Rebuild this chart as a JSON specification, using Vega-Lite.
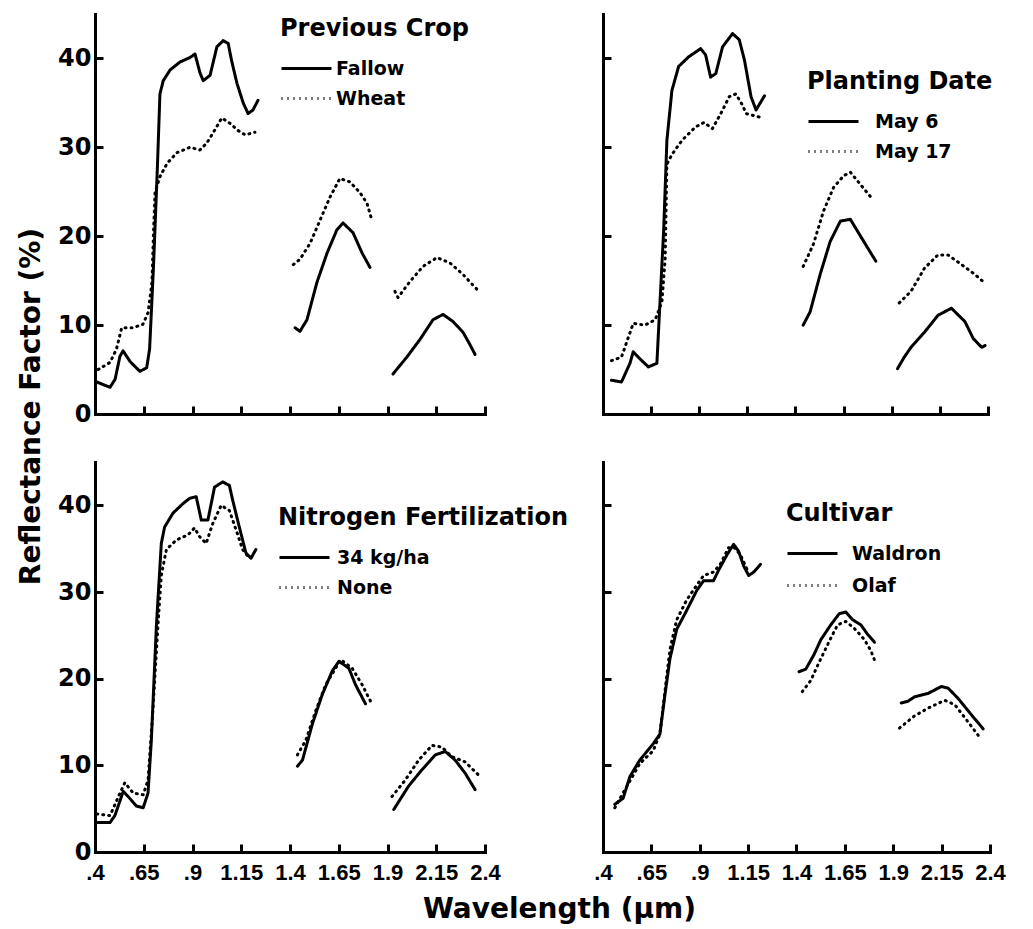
{
  "$schema": "https://vega.github.io/schema/vega-lite/v6.json",
  "background": "white",
  "padding": {"left": 17, "top": 14, "right": 5, "bottom": 5},
  "datasets": {
    "crop": [
      {"series":"Fallow","seg":1,"wl":0.409,"r":3.6},{"series":"Fallow","seg":1,"wl":0.477,"r":3.0},{"series":"Fallow","seg":1,"wl":0.503,"r":3.9},{"series":"Fallow","seg":1,"wl":0.528,"r":6.5},{"series":"Fallow","seg":1,"wl":0.544,"r":7.1},{"series":"Fallow","seg":1,"wl":0.58,"r":5.9},{"series":"Fallow","seg":1,"wl":0.63,"r":4.8},{"series":"Fallow","seg":1,"wl":0.665,"r":5.2},{"series":"Fallow","seg":1,"wl":0.68,"r":7.3},{"series":"Fallow","seg":1,"wl":0.70,"r":16.6},{"series":"Fallow","seg":1,"wl":0.72,"r":27.8},{"series":"Fallow","seg":1,"wl":0.733,"r":36.0},{"series":"Fallow","seg":1,"wl":0.75,"r":37.5},{"series":"Fallow","seg":1,"wl":0.785,"r":38.7},{"series":"Fallow","seg":1,"wl":0.836,"r":39.6},{"series":"Fallow","seg":1,"wl":0.887,"r":40.1},{"series":"Fallow","seg":1,"wl":0.913,"r":40.5},{"series":"Fallow","seg":1,"wl":0.938,"r":38.4},{"series":"Fallow","seg":1,"wl":0.955,"r":37.5},{"series":"Fallow","seg":1,"wl":0.99,"r":38.1},{"series":"Fallow","seg":1,"wl":1.025,"r":41.3},{"series":"Fallow","seg":1,"wl":1.057,"r":42.0},{"series":"Fallow","seg":1,"wl":1.083,"r":41.7},{"series":"Fallow","seg":1,"wl":1.10,"r":39.8},{"series":"Fallow","seg":1,"wl":1.128,"r":37.2},{"series":"Fallow","seg":1,"wl":1.16,"r":35.0},{"series":"Fallow","seg":1,"wl":1.185,"r":33.8},{"series":"Fallow","seg":1,"wl":1.21,"r":34.2},{"series":"Fallow","seg":1,"wl":1.236,"r":35.3},
      {"series":"Fallow","seg":2,"wl":1.426,"r":9.7},{"series":"Fallow","seg":2,"wl":1.451,"r":9.3},{"series":"Fallow","seg":2,"wl":1.487,"r":10.6},{"series":"Fallow","seg":2,"wl":1.538,"r":14.8},{"series":"Fallow","seg":2,"wl":1.59,"r":18.1},{"series":"Fallow","seg":2,"wl":1.64,"r":20.7},{"series":"Fallow","seg":2,"wl":1.672,"r":21.5},{"series":"Fallow","seg":2,"wl":1.723,"r":20.4},{"series":"Fallow","seg":2,"wl":1.77,"r":18.1},{"series":"Fallow","seg":2,"wl":1.81,"r":16.5},
      {"series":"Fallow","seg":3,"wl":1.928,"r":4.5},{"series":"Fallow","seg":3,"wl":1.999,"r":6.4},{"series":"Fallow","seg":3,"wl":2.067,"r":8.4},{"series":"Fallow","seg":3,"wl":2.133,"r":10.6},{"series":"Fallow","seg":3,"wl":2.185,"r":11.2},{"series":"Fallow","seg":3,"wl":2.236,"r":10.4},{"series":"Fallow","seg":3,"wl":2.287,"r":9.2},{"series":"Fallow","seg":3,"wl":2.323,"r":7.8},{"series":"Fallow","seg":3,"wl":2.349,"r":6.7},
      {"series":"Wheat","seg":1,"wl":0.416,"r":5.0},{"series":"Wheat","seg":1,"wl":0.477,"r":5.8},{"series":"Wheat","seg":1,"wl":0.51,"r":7.3},{"series":"Wheat","seg":1,"wl":0.537,"r":9.7},{"series":"Wheat","seg":1,"wl":0.595,"r":9.7},{"series":"Wheat","seg":1,"wl":0.646,"r":10.1},{"series":"Wheat","seg":1,"wl":0.672,"r":11.4},{"series":"Wheat","seg":1,"wl":0.692,"r":14.8},{"series":"Wheat","seg":1,"wl":0.70,"r":20.4},{"series":"Wheat","seg":1,"wl":0.708,"r":24.9},{"series":"Wheat","seg":1,"wl":0.733,"r":26.7},{"series":"Wheat","seg":1,"wl":0.77,"r":28.2},{"series":"Wheat","seg":1,"wl":0.82,"r":29.4},{"series":"Wheat","seg":1,"wl":0.887,"r":30.0},{"series":"Wheat","seg":1,"wl":0.938,"r":29.7},{"series":"Wheat","seg":1,"wl":0.974,"r":30.5},{"series":"Wheat","seg":1,"wl":1.005,"r":31.6},{"series":"Wheat","seg":1,"wl":1.05,"r":33.3},{"series":"Wheat","seg":1,"wl":1.092,"r":32.7},{"series":"Wheat","seg":1,"wl":1.133,"r":31.9},{"series":"Wheat","seg":1,"wl":1.17,"r":31.4},{"series":"Wheat","seg":1,"wl":1.22,"r":31.7},
      {"series":"Wheat","seg":2,"wl":1.417,"r":16.8},{"series":"Wheat","seg":2,"wl":1.451,"r":17.4},{"series":"Wheat","seg":2,"wl":1.503,"r":19.2},{"series":"Wheat","seg":2,"wl":1.554,"r":21.8},{"series":"Wheat","seg":2,"wl":1.605,"r":24.4},{"series":"Wheat","seg":2,"wl":1.656,"r":26.5},{"series":"Wheat","seg":2,"wl":1.708,"r":26.1},{"series":"Wheat","seg":2,"wl":1.759,"r":24.9},{"series":"Wheat","seg":2,"wl":1.795,"r":23.7},{"series":"Wheat","seg":2,"wl":1.82,"r":21.8},
      {"series":"Wheat","seg":3,"wl":1.938,"r":13.8},{"series":"Wheat","seg":3,"wl":1.954,"r":13.1},{"series":"Wheat","seg":3,"wl":2.015,"r":14.9},{"series":"Wheat","seg":3,"wl":2.082,"r":16.6},{"series":"Wheat","seg":3,"wl":2.154,"r":17.6},{"series":"Wheat","seg":3,"wl":2.22,"r":17.0},{"series":"Wheat","seg":3,"wl":2.287,"r":15.7},{"series":"Wheat","seg":3,"wl":2.36,"r":14.0}
    ],
    "date": [
      {"series":"May 6","seg":1,"wl":0.444,"r":3.8},{"series":"May 6","seg":1,"wl":0.496,"r":3.6},{"series":"May 6","seg":1,"wl":0.54,"r":5.7},{"series":"May 6","seg":1,"wl":0.557,"r":7.0},{"series":"May 6","seg":1,"wl":0.592,"r":6.2},{"series":"May 6","seg":1,"wl":0.636,"r":5.3},{"series":"May 6","seg":1,"wl":0.68,"r":5.7},{"series":"May 6","seg":1,"wl":0.697,"r":13.0},{"series":"May 6","seg":1,"wl":0.715,"r":20.6},{"series":"May 6","seg":1,"wl":0.732,"r":30.8},{"series":"May 6","seg":1,"wl":0.758,"r":36.4},{"series":"May 6","seg":1,"wl":0.793,"r":39.1},{"series":"May 6","seg":1,"wl":0.846,"r":40.2},{"series":"May 6","seg":1,"wl":0.907,"r":41.1},{"series":"May 6","seg":1,"wl":0.933,"r":40.4},{"series":"May 6","seg":1,"wl":0.959,"r":37.9},{"series":"May 6","seg":1,"wl":0.986,"r":38.3},{"series":"May 6","seg":1,"wl":1.021,"r":41.3},{"series":"May 6","seg":1,"wl":1.073,"r":42.8},{"series":"May 6","seg":1,"wl":1.108,"r":42.1},{"series":"May 6","seg":1,"wl":1.135,"r":39.8},{"series":"May 6","seg":1,"wl":1.169,"r":35.7},{"series":"May 6","seg":1,"wl":1.195,"r":34.2},{"series":"May 6","seg":1,"wl":1.239,"r":35.8},
      {"series":"May 6","seg":2,"wl":1.44,"r":10.0},{"series":"May 6","seg":2,"wl":1.476,"r":11.5},{"series":"May 6","seg":2,"wl":1.528,"r":15.7},{"series":"May 6","seg":2,"wl":1.58,"r":19.4},{"series":"May 6","seg":2,"wl":1.633,"r":21.7},{"series":"May 6","seg":2,"wl":1.685,"r":21.9},{"series":"May 6","seg":2,"wl":1.738,"r":20.0},{"series":"May 6","seg":2,"wl":1.817,"r":17.2},
      {"series":"May 6","seg":3,"wl":1.93,"r":5.1},{"series":"May 6","seg":3,"wl":1.965,"r":6.4},{"series":"May 6","seg":3,"wl":2.0,"r":7.5},{"series":"May 6","seg":3,"wl":2.07,"r":9.2},{"series":"May 6","seg":3,"wl":2.14,"r":11.1},{"series":"May 6","seg":3,"wl":2.21,"r":11.9},{"series":"May 6","seg":3,"wl":2.28,"r":10.4},{"series":"May 6","seg":3,"wl":2.323,"r":8.5},{"series":"May 6","seg":3,"wl":2.367,"r":7.5},{"series":"May 6","seg":3,"wl":2.385,"r":7.7},
      {"series":"May 17","seg":1,"wl":0.444,"r":6.0},{"series":"May 17","seg":1,"wl":0.496,"r":6.4},{"series":"May 17","seg":1,"wl":0.557,"r":10.2},{"series":"May 17","seg":1,"wl":0.618,"r":10.0},{"series":"May 17","seg":1,"wl":0.671,"r":10.6},{"series":"May 17","seg":1,"wl":0.706,"r":12.6},{"series":"May 17","seg":1,"wl":0.723,"r":17.5},{"series":"May 17","seg":1,"wl":0.732,"r":28.1},{"series":"May 17","seg":1,"wl":0.758,"r":29.2},{"series":"May 17","seg":1,"wl":0.811,"r":30.8},{"series":"May 17","seg":1,"wl":0.881,"r":32.3},{"series":"May 17","seg":1,"wl":0.925,"r":32.8},{"series":"May 17","seg":1,"wl":0.968,"r":32.1},{"series":"May 17","seg":1,"wl":1.012,"r":33.8},{"series":"May 17","seg":1,"wl":1.056,"r":35.7},{"series":"May 17","seg":1,"wl":1.09,"r":36.0},{"series":"May 17","seg":1,"wl":1.126,"r":34.7},{"series":"May 17","seg":1,"wl":1.143,"r":33.8},{"series":"May 17","seg":1,"wl":1.213,"r":33.4},
      {"series":"May 17","seg":2,"wl":1.44,"r":16.6},{"series":"May 17","seg":2,"wl":1.493,"r":19.1},{"series":"May 17","seg":2,"wl":1.545,"r":22.8},{"series":"May 17","seg":2,"wl":1.598,"r":25.5},{"series":"May 17","seg":2,"wl":1.65,"r":26.8},{"series":"May 17","seg":2,"wl":1.685,"r":27.2},{"series":"May 17","seg":2,"wl":1.738,"r":25.8},{"series":"May 17","seg":2,"wl":1.799,"r":24.2},
      {"series":"May 17","seg":3,"wl":1.939,"r":12.5},{"series":"May 17","seg":3,"wl":2.0,"r":13.8},{"series":"May 17","seg":3,"wl":2.07,"r":16.4},{"series":"May 17","seg":3,"wl":2.14,"r":17.9},{"series":"May 17","seg":3,"wl":2.192,"r":17.9},{"series":"May 17","seg":3,"wl":2.263,"r":16.8},{"series":"May 17","seg":3,"wl":2.332,"r":15.7},{"series":"May 17","seg":3,"wl":2.385,"r":14.7}
    ],
    "nitrogen": [
      {"series":"34 kg/ha","seg":1,"wl":0.409,"r":3.4},{"series":"34 kg/ha","seg":1,"wl":0.477,"r":3.4},{"series":"34 kg/ha","seg":1,"wl":0.502,"r":4.2},{"series":"34 kg/ha","seg":1,"wl":0.545,"r":7.0},{"series":"34 kg/ha","seg":1,"wl":0.57,"r":6.4},{"series":"34 kg/ha","seg":1,"wl":0.613,"r":5.3},{"series":"34 kg/ha","seg":1,"wl":0.647,"r":5.1},{"series":"34 kg/ha","seg":1,"wl":0.672,"r":6.8},{"series":"34 kg/ha","seg":1,"wl":0.689,"r":12.9},{"series":"34 kg/ha","seg":1,"wl":0.715,"r":26.2},{"series":"34 kg/ha","seg":1,"wl":0.74,"r":35.6},{"series":"34 kg/ha","seg":1,"wl":0.757,"r":37.5},{"series":"34 kg/ha","seg":1,"wl":0.80,"r":39.1},{"series":"34 kg/ha","seg":1,"wl":0.851,"r":40.2},{"series":"34 kg/ha","seg":1,"wl":0.885,"r":40.8},{"series":"34 kg/ha","seg":1,"wl":0.919,"r":41.0},{"series":"34 kg/ha","seg":1,"wl":0.945,"r":38.3},{"series":"34 kg/ha","seg":1,"wl":0.979,"r":38.3},{"series":"34 kg/ha","seg":1,"wl":1.013,"r":42.1},{"series":"34 kg/ha","seg":1,"wl":1.055,"r":42.7},{"series":"34 kg/ha","seg":1,"wl":1.089,"r":42.3},{"series":"34 kg/ha","seg":1,"wl":1.106,"r":40.6},{"series":"34 kg/ha","seg":1,"wl":1.14,"r":37.5},{"series":"34 kg/ha","seg":1,"wl":1.174,"r":34.5},{"series":"34 kg/ha","seg":1,"wl":1.2,"r":33.9},{"series":"34 kg/ha","seg":1,"wl":1.225,"r":34.9},
      {"series":"34 kg/ha","seg":2,"wl":1.438,"r":9.9},{"series":"34 kg/ha","seg":2,"wl":1.464,"r":10.6},{"series":"34 kg/ha","seg":2,"wl":1.515,"r":14.8},{"series":"34 kg/ha","seg":2,"wl":1.566,"r":18.2},{"series":"34 kg/ha","seg":2,"wl":1.617,"r":20.9},{"series":"34 kg/ha","seg":2,"wl":1.651,"r":22.0},{"series":"34 kg/ha","seg":2,"wl":1.702,"r":21.2},{"series":"34 kg/ha","seg":2,"wl":1.736,"r":19.3},{"series":"34 kg/ha","seg":2,"wl":1.787,"r":17.1},
      {"series":"34 kg/ha","seg":3,"wl":1.932,"r":4.9},{"series":"34 kg/ha","seg":3,"wl":2.008,"r":7.6},{"series":"34 kg/ha","seg":3,"wl":2.077,"r":9.5},{"series":"34 kg/ha","seg":3,"wl":2.145,"r":11.2},{"series":"34 kg/ha","seg":3,"wl":2.196,"r":11.6},{"series":"34 kg/ha","seg":3,"wl":2.247,"r":10.6},{"series":"34 kg/ha","seg":3,"wl":2.298,"r":9.1},{"series":"34 kg/ha","seg":3,"wl":2.349,"r":7.2},
      {"series":"None","seg":1,"wl":0.409,"r":4.4},{"series":"None","seg":1,"wl":0.477,"r":4.2},{"series":"None","seg":1,"wl":0.528,"r":6.8},{"series":"None","seg":1,"wl":0.553,"r":8.0},{"series":"None","seg":1,"wl":0.596,"r":6.8},{"series":"None","seg":1,"wl":0.647,"r":6.6},{"series":"None","seg":1,"wl":0.672,"r":8.3},{"series":"None","seg":1,"wl":0.698,"r":16.7},{"series":"None","seg":1,"wl":0.723,"r":26.2},{"series":"None","seg":1,"wl":0.74,"r":31.9},{"series":"None","seg":1,"wl":0.766,"r":34.9},{"series":"None","seg":1,"wl":0.817,"r":36.0},{"series":"None","seg":1,"wl":0.877,"r":36.6},{"series":"None","seg":1,"wl":0.911,"r":37.4},{"series":"None","seg":1,"wl":0.936,"r":36.4},{"series":"None","seg":1,"wl":0.97,"r":35.6},{"series":"None","seg":1,"wl":1.004,"r":37.9},{"series":"None","seg":1,"wl":1.047,"r":40.0},{"series":"None","seg":1,"wl":1.089,"r":39.4},{"series":"None","seg":1,"wl":1.123,"r":37.2},{"series":"None","seg":1,"wl":1.157,"r":34.9},{"series":"None","seg":1,"wl":1.191,"r":33.9},
      {"series":"None","seg":2,"wl":1.438,"r":11.2},{"series":"None","seg":2,"wl":1.481,"r":12.9},{"series":"None","seg":2,"wl":1.532,"r":16.3},{"series":"None","seg":2,"wl":1.583,"r":19.3},{"series":"None","seg":2,"wl":1.634,"r":21.2},{"series":"None","seg":2,"wl":1.66,"r":22.2},{"series":"None","seg":2,"wl":1.719,"r":21.2},{"series":"None","seg":2,"wl":1.77,"r":19.3},{"series":"None","seg":2,"wl":1.813,"r":17.4},
      {"series":"None","seg":3,"wl":1.923,"r":6.4},{"series":"None","seg":3,"wl":1.991,"r":8.3},{"series":"None","seg":3,"wl":2.06,"r":10.6},{"series":"None","seg":3,"wl":2.128,"r":12.3},{"series":"None","seg":3,"wl":2.179,"r":12.1},{"series":"None","seg":3,"wl":2.23,"r":11.0},{"series":"None","seg":3,"wl":2.298,"r":10.4},{"series":"None","seg":3,"wl":2.366,"r":8.9}
    ],
    "cultivar": [
      {"series":"Waldron","seg":1,"wl":0.461,"r":5.5},{"series":"Waldron","seg":1,"wl":0.504,"r":6.2},{"series":"Waldron","seg":1,"wl":0.539,"r":8.7},{"series":"Waldron","seg":1,"wl":0.59,"r":10.6},{"series":"Waldron","seg":1,"wl":0.66,"r":12.5},{"series":"Waldron","seg":1,"wl":0.694,"r":13.6},{"series":"Waldron","seg":1,"wl":0.72,"r":18.1},{"series":"Waldron","seg":1,"wl":0.746,"r":22.3},{"series":"Waldron","seg":1,"wl":0.781,"r":25.7},{"series":"Waldron","seg":1,"wl":0.833,"r":27.9},{"series":"Waldron","seg":1,"wl":0.885,"r":30.2},{"series":"Waldron","seg":1,"wl":0.92,"r":31.3},{"series":"Waldron","seg":1,"wl":0.971,"r":31.3},{"series":"Waldron","seg":1,"wl":0.997,"r":32.5},{"series":"Waldron","seg":1,"wl":1.041,"r":34.3},{"series":"Waldron","seg":1,"wl":1.075,"r":35.5},{"series":"Waldron","seg":1,"wl":1.101,"r":34.7},{"series":"Waldron","seg":1,"wl":1.127,"r":33.0},{"series":"Waldron","seg":1,"wl":1.153,"r":31.9},{"series":"Waldron","seg":1,"wl":1.179,"r":32.3},{"series":"Waldron","seg":1,"wl":1.214,"r":33.2},
      {"series":"Waldron","seg":2,"wl":1.413,"r":20.8},{"series":"Waldron","seg":2,"wl":1.448,"r":21.1},{"series":"Waldron","seg":2,"wl":1.491,"r":22.8},{"series":"Waldron","seg":2,"wl":1.526,"r":24.5},{"series":"Waldron","seg":2,"wl":1.577,"r":26.2},{"series":"Waldron","seg":2,"wl":1.621,"r":27.5},{"series":"Waldron","seg":2,"wl":1.655,"r":27.7},{"series":"Waldron","seg":2,"wl":1.69,"r":26.8},{"series":"Waldron","seg":2,"wl":1.733,"r":26.2},{"series":"Waldron","seg":2,"wl":1.768,"r":25.1},{"series":"Waldron","seg":2,"wl":1.803,"r":24.2},
      {"series":"Waldron","seg":3,"wl":1.941,"r":17.2},{"series":"Waldron","seg":3,"wl":1.976,"r":17.4},{"series":"Waldron","seg":3,"wl":2.01,"r":17.9},{"series":"Waldron","seg":3,"wl":2.08,"r":18.3},{"series":"Waldron","seg":3,"wl":2.149,"r":19.1},{"series":"Waldron","seg":3,"wl":2.184,"r":18.9},{"series":"Waldron","seg":3,"wl":2.236,"r":17.7},{"series":"Waldron","seg":3,"wl":2.305,"r":15.8},{"series":"Waldron","seg":3,"wl":2.365,"r":14.2},
      {"series":"Olaf","seg":1,"wl":0.461,"r":5.1},{"series":"Olaf","seg":1,"wl":0.521,"r":7.5},{"series":"Olaf","seg":1,"wl":0.59,"r":10.2},{"series":"Olaf","seg":1,"wl":0.66,"r":11.7},{"series":"Olaf","seg":1,"wl":0.694,"r":13.6},{"series":"Olaf","seg":1,"wl":0.72,"r":18.5},{"series":"Olaf","seg":1,"wl":0.746,"r":23.4},{"series":"Olaf","seg":1,"wl":0.781,"r":26.8},{"series":"Olaf","seg":1,"wl":0.833,"r":29.1},{"series":"Olaf","seg":1,"wl":0.885,"r":30.8},{"series":"Olaf","seg":1,"wl":0.92,"r":31.9},{"series":"Olaf","seg":1,"wl":0.971,"r":32.3},{"series":"Olaf","seg":1,"wl":1.006,"r":33.2},{"series":"Olaf","seg":1,"wl":1.049,"r":35.1},{"series":"Olaf","seg":1,"wl":1.075,"r":35.2},{"series":"Olaf","seg":1,"wl":1.11,"r":34.3},{"series":"Olaf","seg":1,"wl":1.145,"r":32.6},
      {"series":"Olaf","seg":2,"wl":1.43,"r":18.5},{"series":"Olaf","seg":2,"wl":1.474,"r":19.8},{"series":"Olaf","seg":2,"wl":1.517,"r":21.9},{"series":"Olaf","seg":2,"wl":1.569,"r":24.3},{"series":"Olaf","seg":2,"wl":1.612,"r":26.2},{"series":"Olaf","seg":2,"wl":1.655,"r":26.6},{"series":"Olaf","seg":2,"wl":1.699,"r":25.8},{"series":"Olaf","seg":2,"wl":1.751,"r":24.5},{"series":"Olaf","seg":2,"wl":1.785,"r":23.2},{"series":"Olaf","seg":2,"wl":1.811,"r":21.7},
      {"series":"Olaf","seg":3,"wl":1.932,"r":14.3},{"series":"Olaf","seg":3,"wl":2.01,"r":15.7},{"series":"Olaf","seg":3,"wl":2.08,"r":16.6},{"series":"Olaf","seg":3,"wl":2.166,"r":17.5},{"series":"Olaf","seg":3,"wl":2.218,"r":17.0},{"series":"Olaf","seg":3,"wl":2.27,"r":15.5},{"series":"Olaf","seg":3,"wl":2.348,"r":13.2}
    ]
  },
  "columns": 2,
  "spacing": {"row": 48, "column": 118},
  "bounds": "flush",
  "resolve": {"scale": {"strokeDash": "independent"}, "legend": {"strokeDash": "independent"}},
  "concat": [
    {
      "width": 390, "height": 400,
      "data": {"name": "crop"},
      "mark": {"type": "line", "stroke": "black", "strokeWidth": 3, "strokeCap": "round", "strokeJoin": "round"},
      "encoding": {
        "x": {"field": "wl", "type": "quantitative", "scale": {"domain": [0.4, 2.4], "nice": false, "zero": false},
              "axis": {"values": [0.4,0.65,0.9,1.15,1.4,1.65,1.9,2.15,2.4], "labels": false, "title": null}},
        "y": {"field": "r", "type": "quantitative", "scale": {"domain": [0, 45], "nice": false},
              "axis": {"values": [0,10,20,30,40], "title": "Reflectance Factor (%)", "titleX": -64, "titleY": 392, "titleAngle": -90, "titleAlign": "center", "titleBaseline": "middle"}},
        "strokeDash": {"field": "series", "type": "nominal", "scale": {"domain": ["Fallow","Wheat"], "range": [[1,0],[1,5]]},
              "legend": {"title": "Previous Crop", "legendX": 185, "legendY": 3, "labelOffset": 33}},
        "detail": {"field": "seg"}
      }
    },
    {
      "width": 385, "height": 400,
      "data": {"name": "date"},
      "mark": {"type": "line", "stroke": "black", "strokeWidth": 3, "strokeCap": "round", "strokeJoin": "round"},
      "encoding": {
        "x": {"field": "wl", "type": "quantitative", "scale": {"domain": [0.4, 2.4], "nice": false, "zero": false},
              "axis": {"values": [0.4,0.65,0.9,1.15,1.4,1.65,1.9,2.15,2.4], "labels": false, "title": null}},
        "y": {"field": "r", "type": "quantitative", "scale": {"domain": [0, 45], "nice": false},
              "axis": {"values": [0,10,20,30,40], "labels": false, "title": null}},
        "strokeDash": {"field": "series", "type": "nominal", "scale": {"domain": ["May 6","May 17"], "range": [[1,0],[1,5]]},
              "legend": {"title": "Planting Date", "legendX": 204, "legendY": 56, "labelOffset": 45}},
        "detail": {"field": "seg"}
      }
    },
    {
      "width": 390, "height": 390,
      "data": {"name": "nitrogen"},
      "mark": {"type": "line", "stroke": "black", "strokeWidth": 3, "strokeCap": "round", "strokeJoin": "round"},
      "encoding": {
        "x": {"field": "wl", "type": "quantitative", "scale": {"domain": [0.4, 2.4], "nice": false, "zero": false},
              "axis": {"values": [0.4,0.65,0.9,1.15,1.4,1.65,1.9,2.15,2.4], "labelExpr": "datum.value < 1 ? substring(format(datum.value, '.2~f'), 1) : format(datum.value, '.2~f')",
                       "title": "Wavelength (µm)", "titleX": 464, "titleY": 57, "titleAlign": "center", "titleBaseline": "middle"}},
        "y": {"field": "r", "type": "quantitative", "scale": {"domain": [0, 45], "nice": false},
              "axis": {"values": [0,10,20,30,40], "title": null}},
        "strokeDash": {"field": "series", "type": "nominal", "scale": {"domain": ["34 kg/ha","None"], "range": [[1,0],[1,5]]},
              "legend": {"title": "Nitrogen Fertilization", "legendX": 183, "legendY": 44, "labelOffset": 36}},
        "detail": {"field": "seg"}
      }
    },
    {
      "width": 387, "height": 390,
      "data": {"name": "cultivar"},
      "mark": {"type": "line", "stroke": "black", "strokeWidth": 3, "strokeCap": "round", "strokeJoin": "round"},
      "encoding": {
        "x": {"field": "wl", "type": "quantitative", "scale": {"domain": [0.4, 2.4], "nice": false, "zero": false},
              "axis": {"values": [0.4,0.65,0.9,1.15,1.4,1.65,1.9,2.15,2.4], "labelExpr": "datum.value < 1 ? substring(format(datum.value, '.2~f'), 1) : format(datum.value, '.2~f')", "title": null}},
        "y": {"field": "r", "type": "quantitative", "scale": {"domain": [0, 45], "nice": false},
              "axis": {"values": [0,10,20,30,40], "labels": false, "title": null}},
        "strokeDash": {"field": "series", "type": "nominal", "scale": {"domain": ["Waldron","Olaf"], "range": [[1,0],[1,5]]},
              "legend": {"title": "Cultivar", "legendX": 183, "legendY": 40, "labelOffset": 43, "rowPadding": 10}},
        "detail": {"field": "seg"}
      }
    }
  ],
  "config": {
    "view": {"stroke": null},
    "axis": {
      "domainColor": "black", "domainWidth": 3, "domainCap": "square",
      "tickColor": "black", "tickWidth": 3, "tickSize": -8,
      "grid": false,
      "labelColor": "black", "labelFontWeight": "bold", "labelOverlap": false,
      "titleColor": "black", "titleFont": "DejaVu Sans", "titleFontWeight": "bold", "titleFontSize": 28
    },
    "axisX": {"labelFont": "Liberation Sans Narrow, Liberation Sans", "labelFontSize": 22, "labelPadding": 18, "labelFlush": false},
    "axisY": {"labelFont": "DejaVu Sans", "labelFontSize": 24, "labelPadding": 12},
    "legend": {
      "orient": "none", "padding": 0,
      "titleFont": "DejaVu Sans", "titleFontSize": 24, "titleFontWeight": "bold", "titleColor": "black", "titleLimit": 500, "titlePadding": 16,
      "labelFont": "DejaVu Sans", "labelFontSize": 19, "labelFontWeight": "bold", "labelColor": "black", "labelLimit": 300,
      "symbolType": "M-1,0H4", "symbolSize": 400, "symbolStrokeWidth": 3, "symbolStrokeColor": "black", "symbolFillColor": "transparent",
      "rowPadding": 8
    }
  }
}
